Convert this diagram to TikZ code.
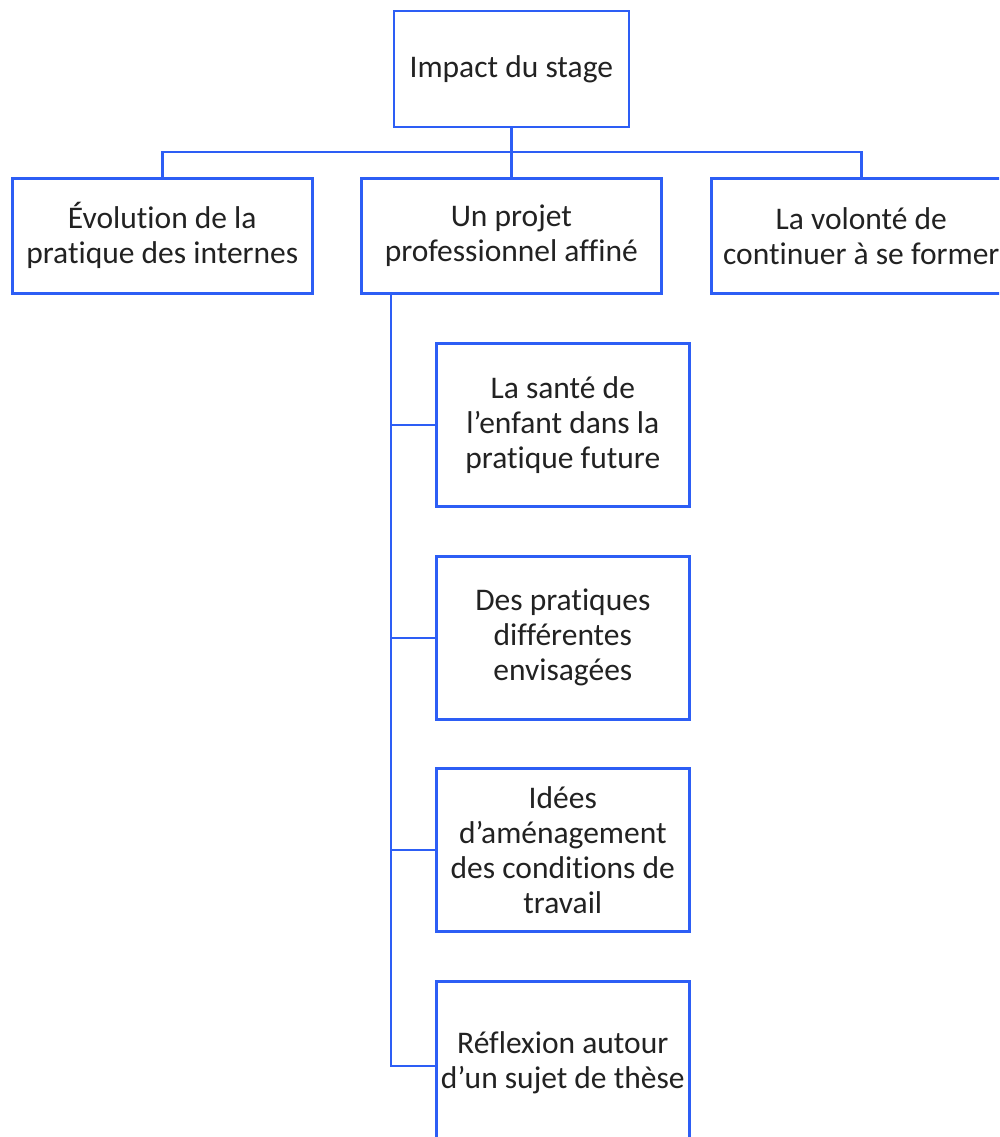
\documentclass[tikz,border=0pt]{standalone}
\usepackage{fontspec}
\setmainfont{Carlito}[Ligatures=NoCommon]
\definecolor{boxblue}{RGB}{45,94,245}
\definecolor{ink}{RGB}{34,34,34}
\begin{document}
\begin{tikzpicture}[x=1pt,y=-1pt,
  box/.style={draw=boxblue, line width=2.6pt, fill=white, text=ink, align=center,
    font=\fontsize{31.5}{35}\selectfont, inner sep=0pt, outer sep=0pt, anchor=north west},
  link/.style={draw=boxblue, line width=2.6pt}]
\useasboundingbox (0,0) rectangle (999,1137);
\clip (0,0) rectangle (999,1137);
% root
\node[box, minimum width=235pt, minimum height=116pt] (root) at (393.8,11) {Impact du stage};
% first level
\node[box, minimum width=300pt, minimum height=115pt] (evo) at (12.3,178.3) {Évolution de la\\pratique des internes};
\node[box, minimum width=300pt, minimum height=115pt] (proj) at (361.3,178.3) {Un projet\\professionnel affiné};
\node[box, minimum width=300pt, minimum height=115pt] (form) at (711.3,178.3) {La volonté de\\continuer à se former};
% second level
\node[box, minimum width=253pt, minimum height=163pt] (sante) at (436.3,343.3) {La santé de\\l’enfant dans la\\pratique future};
\node[box, minimum width=253pt, minimum height=163pt] (diff) at (436.3,556.3) {Des pratiques\\différentes\\envisagées};
\node[box, minimum width=253pt, minimum height=163pt] (amen) at (436.3,768.3) {Idées\\d’aménagement\\des conditions de\\travail};
\node[box, minimum width=253pt, minimum height=163pt] (these) at (436.3,981.3) {Réflexion autour\\d’un sujet de thèse};
% tree connectors
\coordinate (bus) at (511.3,152);
\draw[link] (root.south) -- (bus);
\draw[link] (evo.north) |- (bus) -| (form.north);
\draw[link] (bus) -- (proj.north);
\coordinate (spine) at (391,293.3);
\draw[link] (spine) |- (sante.west);
\draw[link] (spine) |- (diff.west);
\draw[link] (spine) |- (amen.west);
\draw[link] (spine) |- ([yshift=-3pt]these.west);
\end{tikzpicture}
\end{document}
